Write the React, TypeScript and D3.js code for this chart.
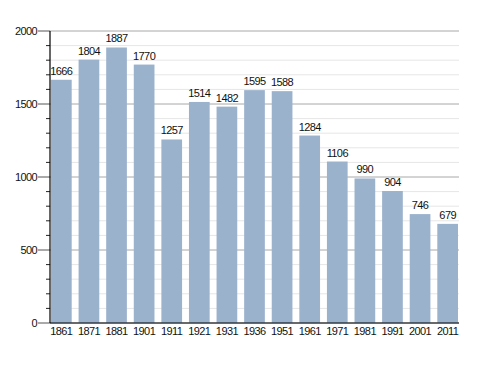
import React from 'react';
import * as d3 from 'd3';

const years = ['1861', '1871', '1881', '1901', '1911', '1921', '1931', '1936', '1951', '1961', '1971', '1981', '1991', '2001', '2011'];
const population = [1666, 1804, 1887, 1770, 1257, 1514, 1482, 1595, 1588, 1284, 1106, 990, 904, 746, 679];
const majorTicks = [0, 500, 1000, 1500, 2000];

const width = 488;
const height = 373;
const margin = { top: 31, right: 30, bottom: 50, left: 51 };

const App: React.FC = () => {
  const x = d3
    .scaleBand<string>()
    .domain(years)
    .range([margin.left, width - margin.right])
    .paddingInner(0.25)
    .paddingOuter(0);

  const y = d3
    .scaleLinear()
    .domain([0, 2000])
    .range([height - margin.bottom, margin.top]);

  const minorTicks = d3.range(0, 2001, 100).filter(v => v % 500 !== 0);
  const x0 = margin.left - 1;
  const x1 = width - margin.right + 1;
  const font = '"Liberation Sans", Arial, sans-serif';
  const textProps = { fontFamily: font, fontSize: 11, letterSpacing: -0.6, fill: '#111' };

  return (
    <svg width={width} height={height} style={{ position: 'absolute', left: 0, top: 0, background: '#fff' }}>
      {/* minor grid */}
      {minorTicks.map(v => (
        <g key={'m' + v}>
          <line x1={x0} x2={x1} y1={y(v)} y2={y(v)} stroke="#e6e6e6" strokeWidth={1} />
          <line x1={x0 - 4} x2={x0} y1={y(v)} y2={y(v)} stroke="#222" strokeWidth={1} />
        </g>
      ))}
      {/* major grid */}
      {majorTicks.map(v => (
        <g key={'M' + v}>
          <line x1={x0} x2={x1} y1={y(v)} y2={y(v)} stroke="#a8a8a8" strokeWidth={1} />
          <line x1={x0 - 12} x2={x0} y1={y(v)} y2={y(v)} stroke="#555" strokeWidth={1} />
          <text x={37} y={y(v) + 4} textAnchor="end" {...textProps}>
            {v}
          </text>
        </g>
      ))}
      {/* bars */}
      {years.map((yr, i) => (
        <g key={yr}>
          <rect
            x={x(yr)}
            y={y(population[i])}
            width={x.bandwidth()}
            height={y(0) - y(population[i])}
            fill="#9bb2cd"
          />
          <text
            x={(x(yr) ?? 0) + x.bandwidth() / 2}
            y={y(population[i]) - 5}
            textAnchor="middle"
            {...textProps}
          >
            {population[i]}
          </text>
          <text
            x={(x(yr) ?? 0) + x.bandwidth() / 2}
            y={y(0) + 11.5}
            textAnchor="middle"
            {...textProps}
          >
            {yr}
          </text>
        </g>
      ))}
      {/* axes */}
      <line x1={x0} x2={x0} y1={y(2000)} y2={y(0)} stroke="#000" strokeWidth={1.2} />
      <line x1={x0} x2={x1} y1={y(0)} y2={y(0)} stroke="#000" strokeWidth={1.2} />
    </svg>
  );
};

export default App;
